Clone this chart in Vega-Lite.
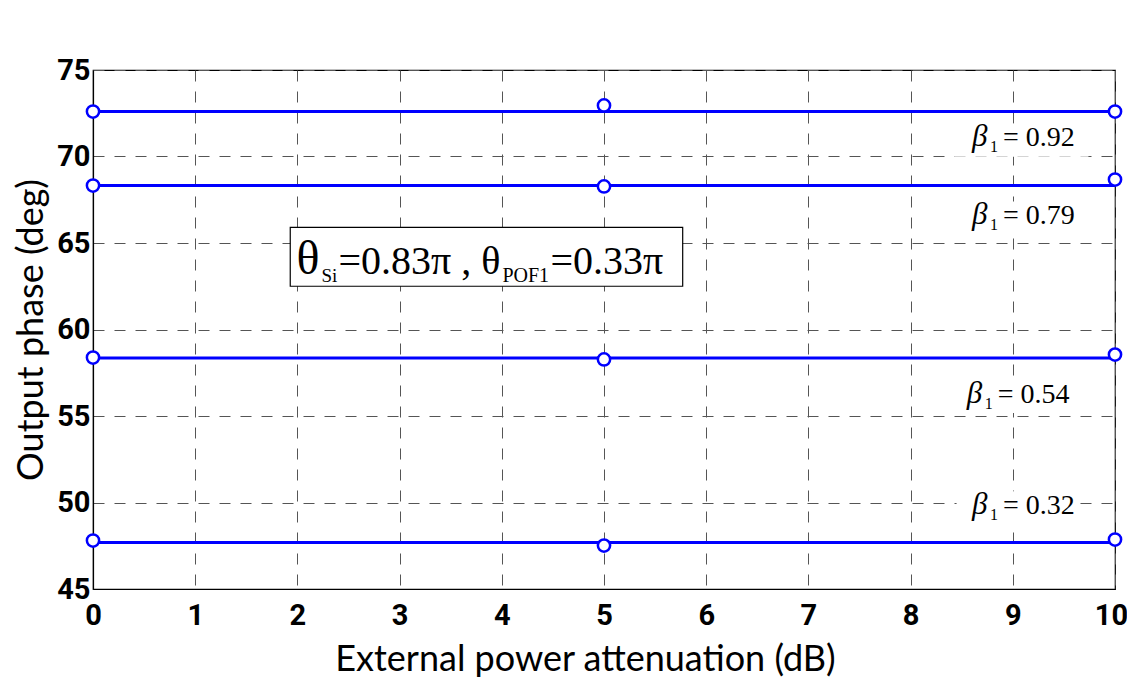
{
  "$schema": "https://vega.github.io/schema/vega-lite/v6.json",
  "width": 1022,
  "height": 519,
  "autosize": "none",
  "padding": {"left": 93, "top": 70, "right": 12, "bottom": 95},
  "background": "white",
  "config": {
    "view": {"stroke": "black", "strokeWidth": 1.2},
    "axis": {
      "domainColor": "black",
      "domainWidth": 1.2,
      "ticks": false,
      "gridColor": "#555555",
      "gridDash": [11, 10],
      "gridWidth": 1,
      "labelFont": "Roboto",
      "labelFontWeight": "bold",
      "labelFontSize": 29,
      "labelColor": "black",
      "labelFlush": false,
      "titleFont": "Lato",
      "titleFontWeight": "normal",
      "titleFontSize": 36,
      "titleColor": "black"
    }
  },
  "datasets": {
    "lines": [
      {"beta": "0.92", "x": 0, "y": 72.6},
      {"beta": "0.92", "x": 10, "y": 72.6},
      {"beta": "0.79", "x": 0, "y": 68.32},
      {"beta": "0.79", "x": 10, "y": 68.32},
      {"beta": "0.54", "x": 0, "y": 58.35},
      {"beta": "0.54", "x": 10, "y": 58.35},
      {"beta": "0.32", "x": 0, "y": 47.69},
      {"beta": "0.32", "x": 10, "y": 47.69}
    ],
    "markers": [
      {"beta": "0.92", "x": 0, "y": 72.6},
      {"beta": "0.92", "x": 5, "y": 72.95},
      {"beta": "0.92", "x": 10, "y": 72.6},
      {"beta": "0.79", "x": 0, "y": 68.32},
      {"beta": "0.79", "x": 5, "y": 68.27},
      {"beta": "0.79", "x": 10, "y": 68.67},
      {"beta": "0.54", "x": 0, "y": 58.38},
      {"beta": "0.54", "x": 5, "y": 58.27},
      {"beta": "0.54", "x": 10, "y": 58.55},
      {"beta": "0.32", "x": 0, "y": 47.8},
      {"beta": "0.32", "x": 5, "y": 47.51},
      {"beta": "0.32", "x": 10, "y": 47.86}
    ],
    "labels": [
      {"x": 8.6, "y": 70.58, "b": "β", "s": "1", "v": "= 0.92", "x0": 8.43, "x1": 9.74, "y0": 69.98, "y1": 71.9},
      {"x": 8.6, "y": 66.07, "b": "β", "s": "1", "v": "= 0.79", "x0": 8.43, "x1": 9.74, "y0": 65.47, "y1": 67.4},
      {"x": 8.55, "y": 55.78, "b": "β", "s": "1", "v": "= 0.54", "x0": 8.4, "x1": 9.7, "y0": 55.18, "y1": 57.1},
      {"x": 8.6, "y": 49.31, "b": "β", "s": "1", "v": "= 0.32", "x0": 8.45, "x1": 9.65, "y0": 48.71, "y1": 50.65}
    ],
    "box": [
      {"x": 1.93, "x2": 5.77, "y": 62.5, "y2": 65.9, "tx": 1.99, "ty": 63.18,
       "t1": "θ", "t2": "Si", "t3": "=0.83π , θ", "t4": "POF1", "t5": "=0.33π"}
    ]
  },
  "layer": [
    {
      "data": {"name": "labels"},
      "mark": {"type": "rect", "fill": "white", "stroke": null},
      "encoding": {
        "x": {"field": "x0", "type": "quantitative",
              "scale": {"domain": [0, 10], "nice": false},
              "axis": {"values": [0,1,2,3,4,5,6,7,8,9,10], "format": "d", "title": "External power attenuation (dB)",
                       "labelPadding": 12, "titlePadding": 12, "labelBaseline": "top", "titleX": 492,
                       "labelOffset": {"condition": {"test": "datum.value == 10", "value": -4}, "value": 0}}},
        "x2": {"field": "x1"},
        "y": {"field": "y0", "type": "quantitative",
              "scale": {"domain": [45, 75], "nice": false, "zero": false},
              "axis": {"values": [45,50,55,60,65,70,75], "format": "d", "title": "Output phase (deg)",
                       "labelPadding": 3, "titlePadding": 6}},
        "y2": {"field": "y1"}
      }
    },
    {
      "data": {"name": "lines"},
      "mark": {"type": "line", "color": "#0000FF", "strokeWidth": 3},
      "encoding": {
        "x": {"field": "x", "type": "quantitative"},
        "y": {"field": "y", "type": "quantitative"},
        "detail": {"field": "beta"}
      }
    },
    {
      "data": {"name": "markers"},
      "mark": {"type": "point", "shape": "circle", "filled": false, "fill": "white", "stroke": "#0000FF", "strokeWidth": 2.5, "size": 150, "opacity": 1},
      "encoding": {
        "x": {"field": "x", "type": "quantitative"},
        "y": {"field": "y", "type": "quantitative"}
      }
    },
    {
      "data": {"name": "labels"},
      "mark": {"type": "text", "font": "Liberation Serif", "fontStyle": "italic", "fontSize": 31, "align": "left", "baseline": "alphabetic"},
      "encoding": {
        "x": {"field": "x", "type": "quantitative"},
        "y": {"field": "y", "type": "quantitative"},
        "text": {"field": "b"}
      }
    },
    {
      "data": {"name": "labels"},
      "mark": {"type": "text", "font": "Liberation Serif", "fontSize": 16, "align": "left", "baseline": "alphabetic", "dx": 18, "dy": 6},
      "encoding": {
        "x": {"field": "x", "type": "quantitative"},
        "y": {"field": "y", "type": "quantitative"},
        "text": {"field": "s"}
      }
    },
    {
      "data": {"name": "labels"},
      "mark": {"type": "text", "font": "Liberation Serif", "fontSize": 28, "align": "left", "baseline": "alphabetic", "dx": 31},
      "encoding": {
        "x": {"field": "x", "type": "quantitative"},
        "y": {"field": "y", "type": "quantitative"},
        "text": {"field": "v"}
      }
    },
    {
      "data": {"name": "box"},
      "mark": {"type": "rect", "fill": "white", "stroke": "black", "strokeWidth": 1.2},
      "encoding": {
        "x": {"field": "x", "type": "quantitative"},
        "x2": {"field": "x2"},
        "y": {"field": "y", "type": "quantitative"},
        "y2": {"field": "y2"}
      }
    },
    {
      "data": {"name": "box"},
      "mark": {"type": "text", "font": "Liberation Serif", "fontSize": 48, "align": "left", "baseline": "alphabetic"},
      "encoding": {
        "x": {"field": "tx", "type": "quantitative"},
        "y": {"field": "ty", "type": "quantitative"},
        "text": {"field": "t1"}
      }
    },
    {
      "data": {"name": "box"},
      "mark": {"type": "text", "font": "Liberation Serif", "fontSize": 19, "align": "left", "baseline": "alphabetic", "dx": 25, "dy": 8},
      "encoding": {
        "x": {"field": "tx", "type": "quantitative"},
        "y": {"field": "ty", "type": "quantitative"},
        "text": {"field": "t2"}
      }
    },
    {
      "data": {"name": "box"},
      "mark": {"type": "text", "font": "Liberation Serif", "fontSize": 40, "align": "left", "baseline": "alphabetic", "dx": 42},
      "encoding": {
        "x": {"field": "tx", "type": "quantitative"},
        "y": {"field": "ty", "type": "quantitative"},
        "text": {"field": "t3"}
      }
    },
    {
      "data": {"name": "box"},
      "mark": {"type": "text", "font": "Liberation Serif", "fontSize": 20, "align": "left", "baseline": "alphabetic", "dx": 206, "dy": 8},
      "encoding": {
        "x": {"field": "tx", "type": "quantitative"},
        "y": {"field": "ty", "type": "quantitative"},
        "text": {"field": "t4"}
      }
    },
    {
      "data": {"name": "box"},
      "mark": {"type": "text", "font": "Liberation Serif", "fontSize": 40, "align": "left", "baseline": "alphabetic", "dx": 254},
      "encoding": {
        "x": {"field": "tx", "type": "quantitative"},
        "y": {"field": "ty", "type": "quantitative"},
        "text": {"field": "t5"}
      }
    }
  ]
}
